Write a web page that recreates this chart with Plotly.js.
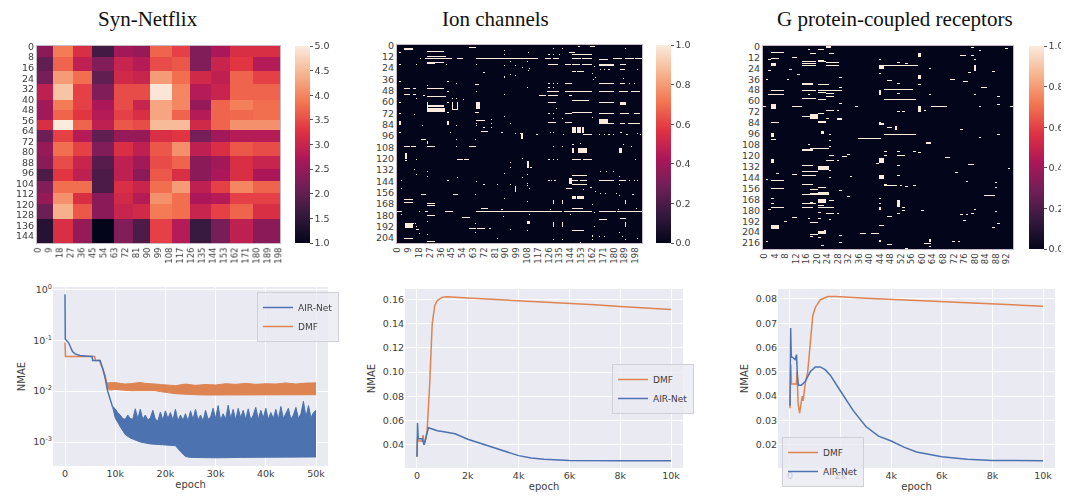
<!DOCTYPE html>
<html><head><meta charset="utf-8">
<script src="https://cdn.plot.ly/plotly-3.0.1.min.js"></script>
<style>
html,body{margin:0;padding:0;background:#fff}
#wrap{width:1061px;height:501px;overflow:hidden}
.heatmaplayer image{filter:blur(.45px)}
.xtick text,.ytick text,.cbaxis text,.xtitle,.ytitle,.legendtext{filter:blur(.3px)}
</style></head><body><div id="wrap"><div id="g"></div></div>
<script>
// ---------- Syn-Netflix block heatmap ----------
const netColEdges=[0,13,30,45,63,79,93,111,126,143,159,178,200];
const netRowEdges=[0,8,19,29,41,49,56,64,73,84,94,103,112,120,132,150];
const netValues=[
[2.4,3.9,3.2,1.7,2.6,2.5,3.7,3.4,2.3,2.7,3.2,3.2],
[2.0,3.7,2.9,2.3,3.0,2.8,3.5,3.6,2.3,3.0,3.3,2.8],
[2.2,4.2,3.8,2.0,3.1,3.0,4.2,3.8,3.1,2.9,3.7,3.4],
[2.9,4.6,3.4,2.3,3.5,3.5,4.95,4.0,2.8,3.0,3.7,3.7],
[2.6,3.9,3.4,2.7,3.5,3.0,4.3,4.0,2.5,3.7,3.95,3.8],
[2.6,3.7,3.3,2.8,3.4,3.2,4.3,3.7,2.8,3.7,3.75,3.8],
[3.2,5.0,3.7,2.9,3.6,3.5,4.5,4.5,3.1,3.7,4.1,4.1],
[2.1,3.4,2.8,2.0,2.5,2.5,3.2,3.3,2.2,2.6,2.8,2.8],
[2.5,3.8,3.4,2.3,3.2,2.9,3.6,4.1,2.9,3.2,3.6,3.5],
[2.4,3.5,3.0,1.9,2.9,2.6,3.5,3.7,2.4,2.6,3.2,3.0],
[1.8,3.3,2.9,1.8,2.9,2.4,3.6,3.2,2.4,2.7,3.2,2.7],
[2.3,3.8,3.8,1.8,3.2,3.0,3.8,4.2,2.9,3.4,4.0,3.7],
[2.5,4.1,3.2,2.4,3.1,2.8,4.1,3.8,2.7,2.8,3.4,3.4],
[2.1,4.4,3.6,2.4,3.0,3.1,3.9,3.8,3.0,3.4,3.7,3.2],
[1.4,3.2,2.5,1.0,2.3,1.8,3.4,2.8,1.6,2.2,2.9,2.4]];
const netXTicks=[0,9,18,27,36,45,54,63,72,81,90,99,108,117,126,135,144,153,162,171,180,189,198];
const netYTicks=[0,8,16,24,32,40,48,56,64,72,80,88,96,104,112,120,128,136,144];

// ---------- Ion channels (210 x 204), nonzero cells ----------
const ionRows=210, ionCols=204;
const ionXTicks=[0,9,18,27,36,45,54,63,72,81,90,99,108,117,126,135,144,153,162,171,180,189,198];
const ionYTicks=[0,12,24,36,48,60,72,84,96,108,120,132,144,156,168,180,192,204];
const ionLines=[[3,6,12],[4,6,12],[2,60,65],[6,25,38],[12,25,40],[14,23,40],[14,40,45],[14,50,54],[14,66,116],[18,25,38],[19,25,31],
[46,25,38],[46,6,10],[46,13,15],[52,6,10],[52,13,15],[54,25,40],[78,6,12],[80,66,72],[91,70,75],[100,20,23],
[10,146,161],[14,123,127],[14,130,134],[14,146,152],[14,154,161],[15,168,175],[14,180,186],[14,190,196],[14,198,203],
[20,126,133],[20,140,144],[20,146,151],[20,154,161],[20,168,180],[21,168,180],[20,186,190],[25,186,189],[28,146,148],[28,150,152],[28,153,155],
[7,143,147],[40,168,180],[40,140,145],[40,186,189],[43,146,155],[49,125,134],[49,140,161],[49,168,180],[49,185,191],[49,195,201],
[53,118,123],[53,126,133],[53,143,145],[58,146,159],[60,126,131],[72,140,145],[71,146,161],[72,168,180],[72,186,192],[72,197,201],
[82,126,131],[82,140,145],[83,168,180],[83,186,189],[83,192,201],[94,155,161],[107,6,10],[107,12,15],[107,25,31],[107,60,65],
[121,50,54],[121,56,59],[168,25,31],[170,25,31],[176,0,3],[176,23,25],[176,40,46],[176,66,97],[176,98,136],[176,139,161],[176,168,181],[176,183,204],
[173,70,75],[173,146,154],[180,25,31],[182,54,60],[194,60,65],[194,67,71],[195,16,17],[158,20,23],[158,47,50],[205,6,12],[208,25,31],
[121,146,152],[121,155,161],[138,146,157],[143,146,150],[143,152,157],[147,146,157],[152,141,145],[143,168,180],[143,185,190],[185,168,174],[184,186,190],[196,146,155],[113,143,146]];
const ionBlocks=[[60,70,25,25],[64,65,25,38],[67,70,25,39],[60,68,46,46],[60,68,50,50],[68,68,46,50],[60,67,66,68],[71,71,65,67],
[60,63,186,190],[60,61,168,180],[79,83,168,175],[87,92,146,148],[87,92,150,152],[87,92,154,155],[93,99,103,104],[115,120,7,7],
[131,132,14,14],[163,163,6,12],[166,167,6,12],[189,193,7,12],[109,114,146,146],[109,114,151,157],[113,113,143,146],[109,114,185,186],
[123,129,108,109],[141,146,143,145],[160,162,146,148],[160,162,150,155],[164,168,130,130],[164,168,137,137],[164,168,190,190],
[188,192,130,130],[188,192,137,137],[188,192,190,190],[201,203,162,162],[41,41,65,67],[187,189,108,110],[81,84,2,2],[81,84,42,42],[150,155,98,98],[102,104,25,25]];
const ionDots=[[7,2],[20,2],[20,16],[20,41],[20,66],[14,19],[5,89],[10,89],[17,94],[21,89],[21,98],[26,75],[29,72],[33,89],[31,94],[32,98],[34,89],[38,42],[40,49],[38,2],[42,25],
[49,66],[52,89],[49,42],[53,22],[56,16],[56,46],[56,49],[57,55],[60,2],[60,42],[71,42],[72,2],[73,14],[75,89],[85,21],[85,49],[79,78],[83,66],[83,78],[87,72],[87,78],[85,66],
[92,87],[93,98],[83,94],[93,102],[92,44],[92,2],[100,49],[100,65],[3,130],[3,137],[7,109],[3,190],[1,151],[1,161],[1,162],[1,163],[1,164],[10,126],[10,130],[10,135],[8,162],[17,108],
[23,104],[24,110],[27,109],[22,164],[25,169],[25,172],[25,176],[25,200],[30,162],[34,165],[36,163],[40,126],[40,130],[40,133],[35,188],[40,193],[40,197],[45,108],[45,126],[45,130],
[61,105],[61,109],[61,113],[61,135],[61,140],[61,191],[61,195],[61,200],[67,132],[72,126],[72,130],[77,130],[77,137],[76,162],[94,116],[92,127],[92,130],[94,138],[94,168],[94,172],[94,176],[94,180],[92,186],[94,191],[93,200],[94,202],
[100,21],[107,49],[122,7],[121,16],[137,16],[134,25],[139,25],[124,94],[129,94],[136,89],[143,3],[143,42],[140,50],[144,66],[148,3],[152,3],[147,72],[147,83],[147,94],[158,65],[162,89],
[176,18],[174,87],[179,3],[181,88],[187,25],[189,65],[189,13],[189,15],[192,16],[194,72],[194,77],[195,94],[198,65],[199,18],[200,25],[205,83],
[107,130],[107,137],[105,146],[104,152],[105,188],[107,195],[121,126],[121,130],[121,133],[121,198],[120,104],[129,111],[134,169],[134,174],[134,180],[139,185],[137,108],[140,104],[146,108],[149,108],[148,110],[152,110],
[143,126],[143,128],[143,131],[143,193],[143,197],[143,200],[147,185],[153,155],[151,161],[155,165],[157,169],[157,173],[157,182],[159,185],[158,196],[165,108],[166,109],[169,162],[174,127],[174,184],[173,199],
[179,110],[179,144],[177,164],[183,161],[187,108],[192,164],[196,108],[198,185],[203,168],[203,172],[203,187],[206,130],[206,137],[206,162],[206,190],[209,152],[205,200]];

// ---------- G protein-coupled receptors (223 x 95), nonzero cells ----------
const gpcrRows=223, gpcrCols=95;
const gpcrXTicks=[0,2,4,6,8,12,16,20,24,28,32,36,40,44,48,52,56,60,64,68,72,76,80,84,88,92].filter(v=>v%4===0||v===2&&false||v===6&&false);
const gpcrYTicks=[0,12,24,36,48,60,72,84,96,108,120,132,144,156,168,180,192,204,216];
const gpcrLines=[[7,3,7],[13,3,5],[17,15,19],[19,15,19],[21,15,19],[17,21,23],[18,24,26],[18,27,28],[21,24,26],[21,27,28],[48,3,7],[48,15,19],[48,21,29],[53,2,7],[51,21,23],[52,24,26],[55,24,26],[57,15,19],[58,21,23],
[66,11,14],[70,24,26],[74,21,22],[77,15,20],[84,3,5],[101,36,44],[112,18,24],[120,25,26],[121,30,31],[125,24,26],[131,15,18],[137,15,20],[141,11,12],[142,15,19],[147,3,7],[152,15,18],[156,3,7],[157,18,20],[160,21,24],[161,15,19],[163,15,19],
[173,15,19],[175,21,22],[169,25,26],[172,24,26],[177,3,7],[177,15,18],[177,21,23],[177,24,26],[184,24,26],[188,11,12],[193,18,20],[195,21,23],[207,18,20],[205,37,38],[205,41,43],[3,21,22],[8,18,19],[8,25,26],[12,11,12],[15,21,22],
[21,46,58],[10,75,76],[36,71,72],[37,47,48],[38,76,77],[45,83,84],[47,46,56],[58,46,57],[66,64,69],[97,46,57],[120,51,53],[122,69,70],[130,78,79],[153,46,50],[164,84,87],[187,47,48],[216,61,63],[218,47,48],[42,21,24]];
const gpcrBlocks=[[0,1,24,25],[19,21,3,4],[41,42,15,18],[64,68,3,4],[75,79,18,20],[79,80,28,29],[82,84,21,23],[93,96,22,22],[96,99,3,3],[102,102,3,4],[113,114,15,18],[123,128,44,45],[132,135,21,24],[142,145,44,45],[161,163,18,24],[168,171,21,23],[197,200,3,5],[203,205,21,23],[213,214,44,44],[213,214,63,63],[212,213,63,63],[21,24,44,45],[48,53,44,44],
[8,11,59,59],[21,26,80,80],[32,35,59,59],[66,72,59,59],[89,89,47,48],[88,91,50,50],[105,107,62,63],[124,127,3,3],[169,176,51,51],[85,86,44,45],[177,179,44,44]];
const gpcrDots=[[3,17],[14,2],[14,44],[16,34],[25,10],[26,2],[27,11],[27,18],[30,44],[31,13],[34,29],[36,1],[36,9],[39,45],[45,29],[47,46],[53,17],[61,44],[63,29],[66,0],[66,35],[70,28],[72,19],[79,24],[84,44],[97,25],[103,25],[108,17],[110,25],[117,3],[119,32],[125,28],[129,43],[136,25],[139,17],[140,5],[143,33],[144,25],[146,1],[152,46],[155,21],[155,22],[155,23],[158,29],[165,32],[167,3],[167,44],[171,18],[173,3],[173,44],[179,2],[182,21],[184,28],[189,17],[189,21],[190,25],[192,8],[197,44],[197,45],[202,23],[206,13],[209,18],[210,21],[208,29],[214,1],[215,29],[219,22],
[1,79],[4,82],[2,92],[5,62],[10,79],[14,80],[18,51],[19,54],[24,63],[29,78],[28,87],[41,51],[42,59],[47,51],[47,53],[52,51],[53,63],[53,80],[55,89],[66,82],[64,89],[66,94],[70,61],[71,51],[71,53],[91,75],[97,89],[100,82],[115,46],[115,51],[115,57],[116,59],[120,46],[131,51],[134,93],[138,73],[142,51],[148,77],[150,78],[149,88],[155,88],[153,52],[154,54],[153,57],[172,53],[177,53],[180,53],[184,51],[180,60],[179,80],[181,88],[185,75],[185,77],[184,79],[191,76],[194,89],[199,87],[214,72],[214,74],[217,81],[220,63],[222,54]];

// ---------- line charts ----------
const dmfNetX=[0,30,100,1000,3000,5900,6050,6900,7100,7500,8000,8300];
const dmfNetY=[0.09,0.075,0.048,0.048,0.048,0.048,0.04,0.04,0.034,0.028,0.02,0.014];
const airNetX=[0,10,60,700,1000,1500,2000,3000,4000,5400,5500,7000,7500,8000,8500,9000,9500];
const airNetY=[0.8,0.12,0.105,0.09,0.078,0.06,0.054,0.05,0.049,0.048,0.04,0.04,0.028,0.018,0.01,0.0065,0.0048];
const dmfBandX=[8300,9000,10000,11000,12000,13000,14000,15000,16000,17000,18000,19000,20000,21000,22000,24000,26000,28000,30000,32000,34000,36000,38000,40000,42000,44000,46000,48000,50000];
const dmfBandLow=[0.0115,0.0105,0.0108,0.0105,0.0102,0.0102,0.0102,0.0102,0.0102,0.0102,0.0102,0.0098,0.0096,0.0092,0.0089,0.0086,0.0085,0.0084,0.0084,0.0085,0.0085,0.0085,0.0085,0.0085,0.0085,0.0085,0.0085,0.0085,0.0085];
const dmfBandHigh=[0.0145,0.0146,0.0147,0.0142,0.0138,0.014,0.0142,0.0148,0.0142,0.0142,0.0138,0.0135,0.0132,0.0128,0.0128,0.0138,0.013,0.0135,0.0132,0.014,0.0136,0.0142,0.0136,0.014,0.0138,0.0145,0.0138,0.0144,0.0145];
const airBandX=[9500,10000,10500,11000,11500,12000,12500,13000,13500,14000,14500,15000,15500,16000,16500,17000,17500,18000,18500,19000,19500,20000,20500,21000,21500,22000,22500,23000,23500,24000,24500,25000,25500,26000,26500,27000,27500,28000,28500,29000,29500,30000,30500,31000,31500,32000,32500,33000,33500,34000,34500,35000,35500,36000,36500,37000,37500,38000,38500,39000,39500,40000,40500,41000,41500,42000,42500,43000,43500,44000,44500,45000,45500,46000,46500,47000,47500,48000,48500,49000,49500,50000];
const airBandHigh=[0.005,0.0045,0.0038,0.0034,0.0029,0.0028,0.0034,0.0029,0.0028,0.0045,0.0029,0.0044,0.0028,0.0034,0.0027,0.003,0.0042,0.0028,0.0026,0.0039,0.0027,0.0041,0.0029,0.0038,0.0027,0.0044,0.0026,0.0034,0.0027,0.0036,0.0026,0.0041,0.0028,0.0044,0.0027,0.0034,0.0026,0.0042,0.0028,0.0031,0.0046,0.0029,0.0052,0.0027,0.0036,0.0028,0.0053,0.0029,0.0044,0.0027,0.0046,0.003,0.0042,0.0028,0.0045,0.0027,0.0034,0.0048,0.0028,0.0042,0.003,0.0046,0.0028,0.0038,0.0029,0.0044,0.0028,0.005,0.0029,0.0036,0.0046,0.0028,0.0034,0.0048,0.0029,0.0036,0.0063,0.0031,0.0052,0.003,0.0038,0.0042];
const airLowX=[9500,10000,11000,11500,12000,13000,15000,17000,20000,22000,23000,23500,24000,25000,30000,35000,40000,45000,50000];
const airBandLow=[0.0048,0.003,0.002,0.0017,0.0014,0.0012,0.001,0.00092,0.00088,0.00085,0.00065,0.00058,0.00052,0.0005,0.00049,0.0005,0.0005,0.0005,0.00051];
const ticksLog=[1,0.1,0.01,0.001];
const ticksLogText=["10<sup>0</sup>","10<sup>-1</sup>","10<sup>-2</sup>","10<sup>-3</sup>"];

const dmfIonX=[0,20,50,200,240,280,350,400,500,600,700,800,1000,1200,2000,3000,4000,5000,6000,7000,8000,9000,10000];
const dmfIonY=[0.03,0.046,0.043,0.043,0.048,0.04,0.045,0.052,0.09,0.14,0.155,0.159,0.1618,0.1622,0.161,0.16,0.1585,0.1575,0.1565,0.1555,0.154,0.153,0.1515];
const airIonX=[0,20,50,200,280,400,450,600,800,1000,1500,2000,2500,3000,3500,4000,4500,5000,6000,7000,8000,10000];
const airIonY=[0.03,0.058,0.045,0.045,0.04,0.052,0.054,0.053,0.0515,0.051,0.049,0.0445,0.041,0.0375,0.034,0.031,0.029,0.028,0.027,0.0267,0.0267,0.0267];
const dmfGpX=[0,30,60,250,280,320,380,440,480,520,600,700,800,900,1000,1200,1500,1800,3000,5000,7000,10000];
const dmfGpY=[0.035,0.053,0.045,0.045,0.05,0.037,0.033,0.037,0.04,0.038,0.045,0.05,0.062,0.073,0.0765,0.0797,0.081,0.081,0.0803,0.0793,0.0785,0.077];
const airGpX=[0,25,50,100,200,260,290,330,450,600,800,1000,1200,1400,1600,1800,2000,2500,3000,3500,4000,4500,5000,6000,7000,8000,10000];
const airGpY=[0.036,0.068,0.056,0.056,0.055,0.057,0.049,0.0445,0.0445,0.046,0.05,0.052,0.052,0.0508,0.0485,0.0455,0.042,0.034,0.0275,0.0235,0.0215,0.019,0.017,0.015,0.014,0.0135,0.0134];

// ---------- helpers ----------
const rocket=[[0,'#03051a'],[1/7,'#35193e'],[2/7,'#701f57'],[3/7,'#ad1759'],[4/7,'#e13342'],[5/7,'#f37651'],[6/7,'#f6b48f'],[1,'#faebdd']];
const orange='#dd8452', blue='#4c72b0', txt='#3d3d3d', W=1067, H=501;
const fx=(a,b)=>[a/W,b/W], fy=(a,b)=>[1-b/H,1-a/H];
function matrix(rows,cols,lines,blocks,dots){
  const z=Array.from({length:rows},()=>new Array(cols).fill(0));
  lines.forEach(([r,a,b])=>{for(let c=a;c<=b&&c<cols;c++)z[r][c]=1;});
  blocks.forEach(([r0,r1,a,b])=>{for(let r=r0;r<=r1;r++)for(let c=a;c<=b&&c<cols;c++)z[r][c]=1;});
  dots.forEach(([r,c])=>{z[r][c]=1;});
  return z;
}
function cb(left,top,bot,dtick){
  return {x:left/W,xanchor:'left',xpad:0,ypad:0,y:1-bot/H,yanchor:'bottom',lenmode:'fraction',len:(bot-top)/H,thickness:15,outlinewidth:0,
    tick0:dtick===0.5?1:0,dtick:dtick,tickformat:'.1f',ticks:'outside',ticklen:3,tickcolor:'#555',tickfont:{size:9.5,color:txt,family:'DejaVu Sans'}};
}
const centers=a=>a.map(v=>v+0.5);
const traces=[
 {type:'heatmap',x:netColEdges,y:netRowEdges,z:netValues,zmin:1,zmax:5,colorscale:rocket,xaxis:'x',yaxis:'y',colorbar:cb(295,46,243,0.5),hoverinfo:'skip'},
 {type:'heatmap',x0:0.5,dx:1,y0:0.5,dy:1,z:matrix(ionRows,ionCols,ionLines,ionBlocks,ionDots),zmin:0,zmax:1,colorscale:rocket,xaxis:'x2',yaxis:'y2',colorbar:cb(656,45,243,0.2),hoverinfo:'skip'},
 {type:'heatmap',x0:0.5,dx:1,y0:0.5,dy:1,z:matrix(gpcrRows,gpcrCols,gpcrLines,gpcrBlocks,gpcrDots),zmin:0,zmax:1,colorscale:rocket,xaxis:'x3',yaxis:'y3',colorbar:cb(1029,46,249,0.2),hoverinfo:'skip'},
 {type:'scatter',mode:'lines',x:dmfBandX,y:dmfBandLow,line:{color:orange,width:1},xaxis:'x4',yaxis:'y4',showlegend:false},
 {type:'scatter',mode:'lines',x:dmfBandX,y:dmfBandHigh,fill:'tonexty',fillcolor:orange,line:{color:orange,width:1},xaxis:'x4',yaxis:'y4',showlegend:false},
 {type:'scatter',mode:'lines',name:'DMF',x:dmfNetX,y:dmfNetY,line:{color:orange,width:1.5},xaxis:'x4',yaxis:'y4',legend:'legend'},
 {type:'scatter',mode:'lines',x:airLowX,y:airBandLow,line:{color:blue,width:1},xaxis:'x4',yaxis:'y4',showlegend:false},
 {type:'scatter',mode:'lines',x:airBandX,y:airBandHigh,fill:'tonexty',fillcolor:blue,line:{color:blue,width:1},xaxis:'x4',yaxis:'y4',showlegend:false},
 {type:'scatter',mode:'lines',name:'AIR-Net',x:airNetX,y:airNetY,line:{color:blue,width:1.5},xaxis:'x4',yaxis:'y4',legend:'legend'},
 {type:'scatter',mode:'lines',name:'DMF',x:dmfIonX,y:dmfIonY,line:{color:orange,width:1.5},xaxis:'x5',yaxis:'y5',legend:'legend2'},
 {type:'scatter',mode:'lines',name:'AIR-Net',x:airIonX,y:airIonY,line:{color:blue,width:1.5},xaxis:'x5',yaxis:'y5',legend:'legend2'},
 {type:'scatter',mode:'lines',name:'DMF',x:dmfGpX,y:dmfGpY,line:{color:orange,width:1.5},xaxis:'x6',yaxis:'y6',legend:'legend3'},
 {type:'scatter',mode:'lines',name:'AIR-Net',x:airGpX,y:airGpY,line:{color:blue,width:1.5},xaxis:'x6',yaxis:'y6',legend:'legend3'}
];
const f=(s)=>({size:s,color:txt,family:'DejaVu Sans'});
const hmX=(dom,range,ticks,anchor)=>({domain:dom,range:range,tickmode:'array',tickvals:centers(ticks),ticktext:ticks.map(String),tickangle:-90,tickfont:f(8.5),ticks:'',ticklen:0,showgrid:false,zeroline:false,showline:true,mirror:true,linecolor:'#c9b9c4',linewidth:1,anchor:anchor});
const hmY=(dom,range,ticks,anchor)=>({domain:dom,range:range,tickmode:'array',tickvals:centers(ticks),ticktext:ticks.map(String),tickfont:f(9.5),ticks:'',showgrid:false,zeroline:false,showline:true,mirror:true,linecolor:'#c9b9c4',linewidth:1,anchor:anchor});
const lnX=(dom,range,dtick,anchor)=>({domain:dom,range:range,tick0:0,dtick:dtick,tickfont:f(9.5),gridcolor:'#fff',gridwidth:1,zeroline:false,showline:false,ticks:'',anchor:anchor,title:{text:'epoch',font:f(10),standoff:3}});
const lnY=(dom,range,dtick,fmt,anchor)=>({domain:dom,range:range,dtick:dtick,tick0:0,tickformat:fmt,tickfont:f(9.5),gridcolor:'#fff',gridwidth:1,zeroline:false,showline:false,ticks:'',anchor:anchor,title:{text:'NMAE',font:f(10),standoff:5}});
const legendOf=(x,y)=>({x:x/W,y:1-y/H,xanchor:'left',yanchor:'top',bgcolor:'rgba(234,234,242,.8)',bordercolor:'#cfcfd6',borderwidth:1,font:f(9),tracegroupgap:0,itemwidth:30});
const serif={family:'Liberation Serif',size:21,color:'#111'};
const title=(t,x)=>({text:t,x:x/W,y:1-19/H,xref:'paper',yref:'paper',showarrow:false,font:serif,xanchor:'center',yanchor:'middle'});
const logY=lnY(fy(287,466),[-3.47,0.045],null,null,'x4');
delete logY.dtick;delete logY.tick0;delete logY.tickformat;
Object.assign(logY,{type:'log',tickmode:'array',tickvals:ticksLog,ticktext:ticksLogText});
const layout={width:W,height:H,margin:{l:0,r:0,t:0,b:0},paper_bgcolor:'#fff',plot_bgcolor:'#eaeaf2',
 xaxis:hmX(fx(37,280),[0,200],netXTicks,'y'),yaxis:hmY(fy(46,243),[150,0],netYTicks,'x'),
 xaxis2:hmX(fx(397,642),[0,ionCols],ionXTicks,'y2'),yaxis2:hmY(fy(45,243),[ionRows,0],ionYTicks,'x2'),
 xaxis3:hmX(fx(763,1013),[0,gpcrCols],gpcrXTicks,'y3'),yaxis3:hmY(fy(46,249),[gpcrRows,0],gpcrYTicks,'x3'),
 xaxis4:lnX(fx(53,328),[-2390,52390],10000,'y4'),yaxis4:logY,
 xaxis5:lnX(fx(405,683),[-472,10472],2000,'y5'),yaxis5:lnY(fy(289,468),[0.0208,0.1685],0.02,'.2f','x5'),
 xaxis6:lnX(fx(778,1055),[-474,10474],2000,'y6'),yaxis6:lnY(fy(289,468),[0.0104,0.0841],0.01,'.2f','x6'),
 legend:legendOf(257,292),legend2:legendOf(612,364),legend3:legendOf(782,437),
 annotations:[title('Syn-Netflix',148),title('Ion channels',495),title('G protein-coupled receptors',895)]
};
Plotly.newPlot('g',traces,layout,{displayModeBar:false,staticPlot:true});
</script></body></html>
